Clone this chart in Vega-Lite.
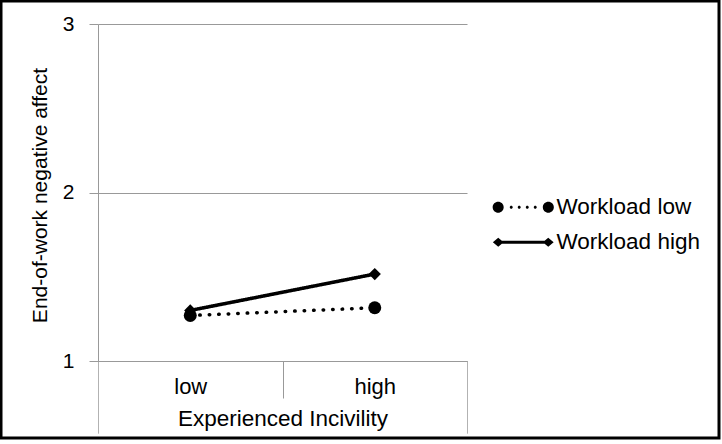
{
  "$schema": "https://vega.github.io/schema/vega-lite/v6.json",
  "autosize": {"type": "none"},
  "padding": {"left": 1, "top": 1, "right": 3, "bottom": 6},
  "width": 718,
  "height": 437,
  "background": "white",
  "config": {
    "view": {"stroke": "black", "strokeWidth": 3, "fill": "white"},
    "font": "Liberation Sans"
  },
  "data": {
    "values": [
      {"incivility": "low", "series": "Workload low", "value": 1.27},
      {"incivility": "high", "series": "Workload low", "value": 1.316},
      {"incivility": "low", "series": "Workload high", "value": 1.3},
      {"incivility": "high", "series": "Workload high", "value": 1.516}
    ]
  },
  "resolve": {"scale": {"shape": "independent"}},
  "encoding": {
    "x": {
      "field": "incivility",
      "type": "nominal",
      "sort": ["low", "high"],
      "scale": {"type": "band", "domain": ["low", "high"], "range": [97, 466], "paddingInner": 0, "paddingOuter": 0},
      "axis": {
        "title": "Experienced Incivility",
        "tickBand": "extent",
        "tickSize": 72,
        "tickColor": "#999999",
        "tickDash": {"condition": {"test": "datum.value === 'low'", "value": [37, 100]}, "value": [1, 0]},
        "domainColor": "#999999",
        "labelFontSize": 22,
        "labelPadding": -57,
        "labelColor": "black",
        "labelAngle": 0,
        "titleFontSize": 22.5,
        "titleFontWeight": "normal",
        "titleColor": "black",
        "titleY": 64,
        "titleBaseline": "alphabetic",
        "offset": -77,
        "grid": false
      }
    },
    "y": {
      "field": "value",
      "type": "quantitative",
      "scale": {"domain": [1, 3], "range": [360, 23], "nice": false, "zero": false},
      "axis": {
        "title": "End-of-work negative affect",
        "tickCount": 2,
        "format": "d",
        "labelOverlap": false,
        "grid": true,
        "gridColor": "#999999",
        "domainColor": "#999999",
        "tickColor": "#999999",
        "tickSize": 9,
        "labelFontSize": 21,
        "labelPadding": 15,
        "labelColor": "black",
        "titleFontSize": 21,
        "titleFontWeight": "normal",
        "titleColor": "black",
        "titleX": -52,
        "titleY": 194,
        "titleBaseline": "alphabetic",
        "offset": -97
      }
    }
  },
  "layer": [
    {
      "mark": {"type": "point", "filled": true, "color": "black", "opacity": 0},
      "encoding": {
        "shape": {
          "field": "series",
          "type": "nominal",
          "scale": {
            "domain": ["Workload low", "Workload high"],
            "range": [
              "M-5.1,0A0.92,0.92,0,1,1,-3.26,0A0.92,0.92,0,1,1,-5.1,0ZM3.26,0A0.92,0.92,0,1,1,5.1,0A0.92,0.92,0,1,1,3.26,0ZM-2.25,0A0.25,0.25,0,1,1,-1.75,0A0.25,0.25,0,1,1,-2.25,0ZM-0.92,0A0.25,0.25,0,1,1,-0.42,0A0.25,0.25,0,1,1,-0.92,0ZM0.42,0A0.25,0.25,0,1,1,0.92,0A0.25,0.25,0,1,1,0.42,0ZM1.75,0A0.25,0.25,0,1,1,2.25,0A0.25,0.25,0,1,1,1.75,0Z",
              "M-4.167,-0.27L4.167,-0.27L4.167,0.27L-4.167,0.27ZM-5.067,0L-4.167,-0.75L-3.267,0L-4.167,0.75ZM3.267,0L4.167,-0.75L5.067,0L4.167,0.75Z"
            ]
          },
          "legend": {
            "title": null,
            "orient": "none",
            "legendX": 511,
            "legendY": 195,
            "padding": 0,
            "labelFontSize": 22.5,
            "labelColor": "black",
            "labelOffset": 22,
            "rowPadding": 12,
            "symbolSize": 144,
            "symbolOpacity": 1,
            "symbolFillColor": "black",
            "symbolStrokeWidth": 0
          }
        }
      }
    },
    {
      "mark": {"type": "line", "color": "black", "strokeWidth": 3.5, "strokeCap": "round"},
      "encoding": {
        "strokeDash": {
          "field": "series",
          "type": "nominal",
          "scale": {"domain": ["Workload low", "Workload high"], "range": [[0.5, 9], [1, 0]]},
          "legend": null
        }
      }
    },
    {
      "mark": {"type": "point", "filled": true, "color": "black", "opacity": 1},
      "encoding": {
        "shape": {
          "field": "series",
          "type": "nominal",
          "scale": {"domain": ["Workload low", "Workload high"], "range": ["circle", "diamond"]},
          "legend": null
        },
        "size": {
          "field": "series",
          "type": "ordinal",
          "scale": {"domain": ["Workload low", "Workload high"], "range": [169, 150]},
          "legend": null
        }
      }
    }
  ]
}
